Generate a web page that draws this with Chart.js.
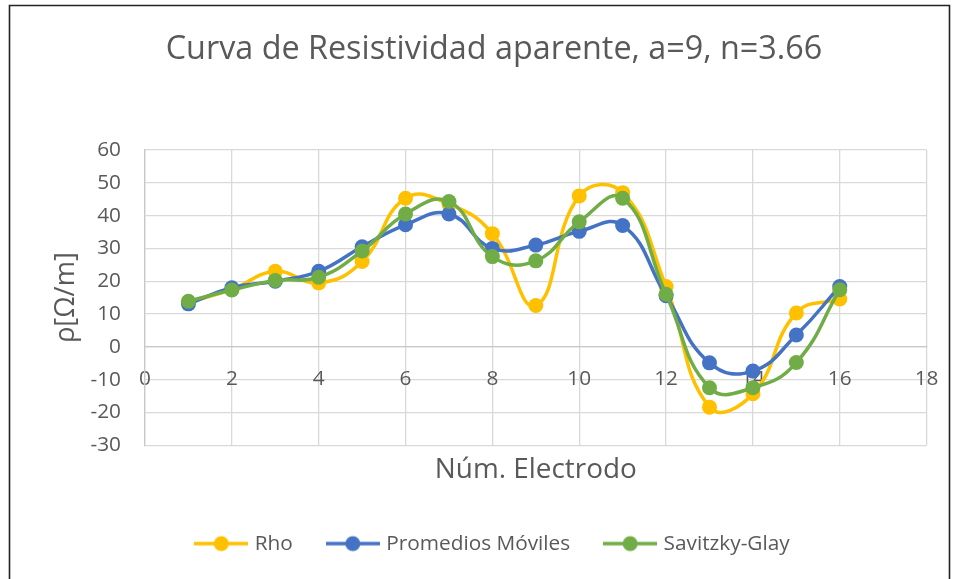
<!DOCTYPE html>
<html>
<head>
<meta charset="utf-8">
<script src="https://cdn.jsdelivr.net/npm/chart.js@4.4.1/dist/chart.umd.min.js"></script>
<style>
html,body{margin:0;padding:0;background:#ffffff;}
#wrap{width:958px;height:579px;position:relative;}
canvas{display:block;}
</style>
</head>
<body>
<div id="wrap"><canvas id="c" width="958" height="579"></canvas></div>
<script>
// ---- data ----
const electrodes = [1, 2, 3, 4, 5, 6, 7, 8, 9, 10, 11, 12, 13, 14, 15, 16];
const rho        = [13.5, 17.5, 23.0, 19.5, 26.0, 45.3, 43.5, 34.5, 12.6, 46.0, 47.0, 18.4, -18.4, -14.3, 10.3, 14.6];
const promedios  = [13.1, 18.0, 20.0, 23.0, 30.5, 37.2, 40.5, 30.0, 31.0, 35.2, 37.0, 15.6, -4.9, -7.4, 3.6, 18.4];
const savitzky   = [13.9, 17.3, 20.2, 21.2, 29.2, 40.5, 44.3, 27.5, 26.2, 38.1, 45.3, 16.0, -12.5, -12.5, -4.8, 17.4];
const seriesNames = ['Rho', 'Promedios Móviles', 'Savitzky-Glay'];
const xTickValues = [0, 2, 4, 6, 8, 10, 12, 14, 16, 18];
const yTickValues = [-30, -20, -10, 0, 10, 20, 30, 40, 50, 60];
const chartTitle = 'Curva de Resistividad aparente, a=9, n=3.66';
const xTitle = 'Núm. Electrodo';
const yTitle = 'ρ[Ω/m]';

// ---- styles ----
const FAM = '"Open Sans", "Noto Sans", sans-serif';
const TXT = '#595959';
const COLORS = ['#FFC000', '#4472C4', '#70AD47'];
const mctx = document.createElement('canvas').getContext('2d');
function fitSize(text, w) {
  mctx.font = '100px ' + FAM;
  return +(100 * w / mctx.measureText(text).width).toFixed(2);
}
const titleSize = fitSize(chartTitle, 657);
const tickSize = fitSize('-30', 30.5);
const axTitleSize = fitSize(xTitle, 202);
const yTitleSize = fitSize(yTitle, 91);
const legendSize = fitSize(seriesNames[1], 184);

function legendIcon(color) {
  const c = document.createElement('canvas');
  c.width = 54; c.height = 18;
  const g = c.getContext('2d');
  g.strokeStyle = color; g.lineWidth = 3.5;
  g.beginPath(); g.moveTo(0, 9); g.lineTo(54, 9); g.stroke();
  g.fillStyle = color;
  g.beginPath(); g.arc(27, 9, 7.5, 0, Math.PI * 2); g.fill();
  return c;
}
const icons = COLORS.map(legendIcon);

function series(vals) { return electrodes.map((x, i) => ({x: x, y: vals[i]})); }
const allSeries = [rho, promedios, savitzky];

const frame = {
  id: 'frame',
  beforeDraw(chart) {
    const ctx = chart.ctx;
    ctx.save();
    ctx.fillStyle = '#ffffff';
    ctx.fillRect(0, 0, chart.width, chart.height);
    ctx.restore();
  },
  afterDraw(chart) {
    const ctx = chart.ctx;
    ctx.save();
    ctx.strokeStyle = '#222222';
    ctx.lineWidth = 1.6;
    ctx.beginPath();
    ctx.moveTo(9.5, 700); ctx.lineTo(9.5, 5.5); ctx.lineTo(949.5, 5.5); ctx.lineTo(949.5, 700);
    ctx.stroke();
    ctx.restore();
  }
};

const titleTop = 50 - titleSize * 0.6;

new Chart(document.getElementById('c'), {
  type: 'line',
  data: {
    datasets: allSeries.map((vals, i) => ({
      label: seriesNames[i],
      data: series(vals),
      borderColor: COLORS[i],
      backgroundColor: COLORS[i],
      pointBackgroundColor: COLORS[i],
      pointBorderColor: COLORS[i],
      borderWidth: 3.5,
      pointRadius: 7.5,
      pointBorderWidth: 0,
      pointHoverRadius: 7.5,
      tension: 0.45,
      fill: false,
      order: 3 - i,
      xAxisID: 'x',
      yAxisID: 'y'
    }))
  },
  options: {
    responsive: false,
    animation: false,
    devicePixelRatio: 1,
    layout: {padding: {left: 60, right: 30, top: 0, bottom: 15}},
    plugins: {
      title: {
        display: true,
        text: chartTitle,
        color: TXT,
        font: {family: FAM, size: titleSize, weight: 'normal', lineHeight: 1.2},
        padding: {top: titleTop, bottom: 150 - titleTop - titleSize * 1.2}
      },
      legend: {
        display: true,
        position: 'bottom',
        labels: {
          color: TXT,
          font: {family: FAM, size: legendSize},
          usePointStyle: true,
          pointStyleWidth: 46,
          padding: 37,
          sort: (a, b) => a.datasetIndex - b.datasetIndex,
          generateLabels(chart) {
            const items = Chart.defaults.plugins.legend.labels.generateLabels(chart);
            items.forEach(it => { it.pointStyle = icons[it.datasetIndex]; });
            return items;
          }
        }
      },
      tooltip: {enabled: false}
    },
    scales: {
      x: {
        type: 'linear',
        position: {y: 0},
        min: 0, max: 18,
        afterBuildTicks(scale) { scale.ticks = xTickValues.map(v => ({value: v})); },
        grid: {color: '#d9d9d9', lineWidth: 1.3, drawTicks: false},
        border: {display: true, color: '#c8c8c8', width: 1.3},
        ticks: {color: TXT, font: {family: FAM, size: tickSize}, padding: 32 - tickSize * 0.6, maxRotation: 0, autoSkip: false}
      },
      x2: {
        type: 'linear',
        position: 'bottom',
        min: 0, max: 18,
        grid: {display: false, drawTicks: false},
        border: {display: false},
        ticks: {display: false},
        title: {display: true, text: xTitle, color: TXT, font: {family: FAM, size: axTitleSize, lineHeight: 1.2}, padding: {top: 0, bottom: 26 - axTitleSize * 0.6}},
        afterFit(scale) { scale.height = 51; }
      },
      y: {
        type: 'linear',
        position: 'left',
        min: -30, max: 60,
        afterBuildTicks(scale) { scale.ticks = yTickValues.map(v => ({value: v})); },
        grid: {color: '#d9d9d9', lineWidth: 1.3, drawTicks: false},
        border: {display: true, color: '#c8c8c8', width: 1.3},
        ticks: {color: TXT, font: {family: FAM, size: tickSize}, padding: 24},
        title: {display: true, text: yTitle, color: TXT, font: {family: FAM, size: yTitleSize, lineHeight: 1.2}, padding: {top: 6 - yTitleSize * 0.6, bottom: 0}},
        afterFit(scale) { scale.width = 85; }
      }
    }
  },
  plugins: [frame]
});
</script>
</body>
</html>
